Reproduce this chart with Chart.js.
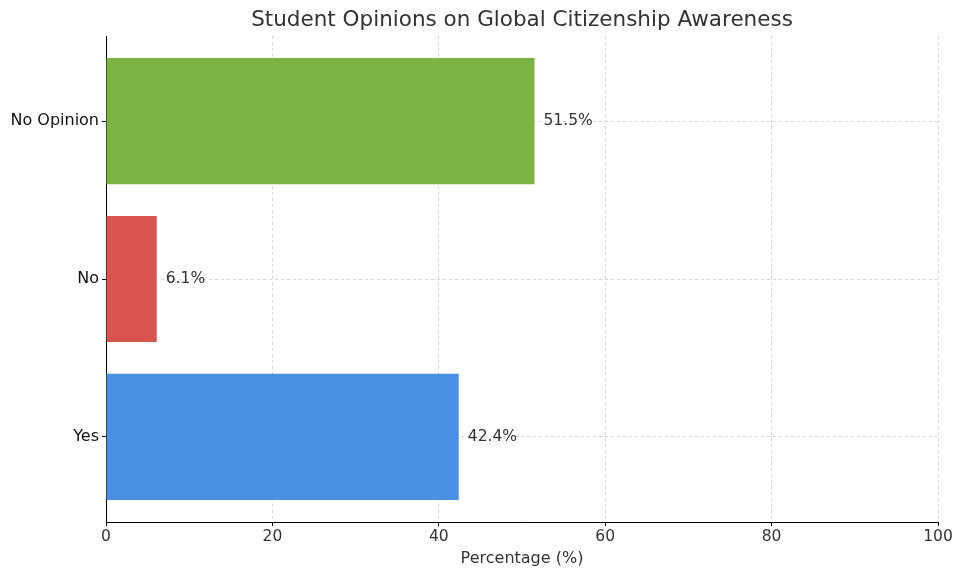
<!DOCTYPE html>
<html>
<head>
<meta charset="utf-8">
<script src="https://cdn.jsdelivr.net/npm/chart.js@4"></script>
<style>
    html, body { margin: 0; padding: 0; background: #fff; }
    #wrap { width: 955px; height: 568px; }
</style>
</head>
<body>
<div id="wrap"><canvas id="chart" width="955" height="568"></canvas></div>
<script>
// 数据
const categories = ['Yes', 'No', 'No Opinion'];
const percentages = [42.4, 6.1, 51.5];
const barColors = ['#4a90e2', '#d9534f', '#7cb342'];
const xTicks = [0, 20, 40, 60, 80, 100];

const FONT = "'DejaVu Sans', sans-serif";

// 标题画在绘图区中间
const titlePlugin = {
    id: 'plotTitle',
    afterDraw(chart) {
        const { ctx, chartArea } = chart;
        ctx.save();
        ctx.font = '21.5px ' + FONT;
        ctx.fillStyle = '#333333';
        ctx.textAlign = 'center';
        ctx.textBaseline = 'middle';
        ctx.fillText('Student Opinions on Global Citizenship Awareness', (chartArea.left + chartArea.right) / 2, 20);
        ctx.restore();
    }
};

// 条形右侧的数值标签
const valueLabels = {
    id: 'valueLabels',
    afterDatasetsDraw(chart) {
        const { ctx } = chart;
        const meta = chart.getDatasetMeta(0);
        ctx.save();
        ctx.font = '15.5px ' + FONT;
        ctx.fillStyle = '#333333';
        ctx.textAlign = 'left';
        ctx.textBaseline = 'middle';
        meta.data.forEach((bar, i) => {
            ctx.fillText(percentages[i].toFixed(1) + '%', bar.x + 9, bar.y);
        });
        ctx.restore();
    }
};

const gridOpts = {
    color: '#d6d6d6',
    offset: false,
    tickColor: '#000',
    tickLength: 4,
    tickBorderDash: []
};

new Chart(document.getElementById('chart'), {
    type: 'bar',
    data: {
        datasets: [{
            data: percentages.map((v, i) => ({ x: v, y: i })),
            backgroundColor: barColors,
            borderWidth: 0,
            barPercentage: 0.8,
            categoryPercentage: 1.0
        }]
    },
    options: {
        indexAxis: 'y',
        responsive: false,
        animation: false,
        layout: { padding: { top: 36, right: 17, left: 0, bottom: 0 } },
        plugins: {
            legend: { display: false },
            tooltip: { enabled: false },
            title: { display: false }
        },
        scales: {
            x: {
                type: 'linear',
                min: 0,
                max: 100,
                offset: false,
                afterBuildTicks: scale => { scale.ticks = xTicks.map(v => ({ value: v })); },
                afterFit: scale => { scale.height = 46; },
                grid: gridOpts,
                border: { display: true, color: '#000', width: 1, dash: [3, 3] },
                ticks: { color: '#333333', font: { family: FONT, size: 15.5 }, padding: 2, maxRotation: 0 },
                title: {
                    display: true,
                    text: 'Percentage (%)',
                    color: '#333333',
                    font: { family: FONT, size: 16 },
                    padding: { top: 1, bottom: 0 }
                }
            },
            y: {
                type: 'linear',
                min: -0.54,
                max: 2.54,
                offset: false,
                afterBuildTicks: scale => { scale.ticks = categories.map((c, i) => ({ value: i })); },
                afterFit: scale => { scale.width = 106; },
                grid: gridOpts,
                border: { display: true, color: '#000', width: 1, dash: [3, 3] },
                ticks: {
                    color: '#111111',
                    font: { family: FONT, size: 16 },
                    padding: 3,
                    callback: v => categories[v] || ''
                }
            }
        }
    },
    plugins: [titlePlugin, valueLabels]
});
</script>
</body>
</html>
